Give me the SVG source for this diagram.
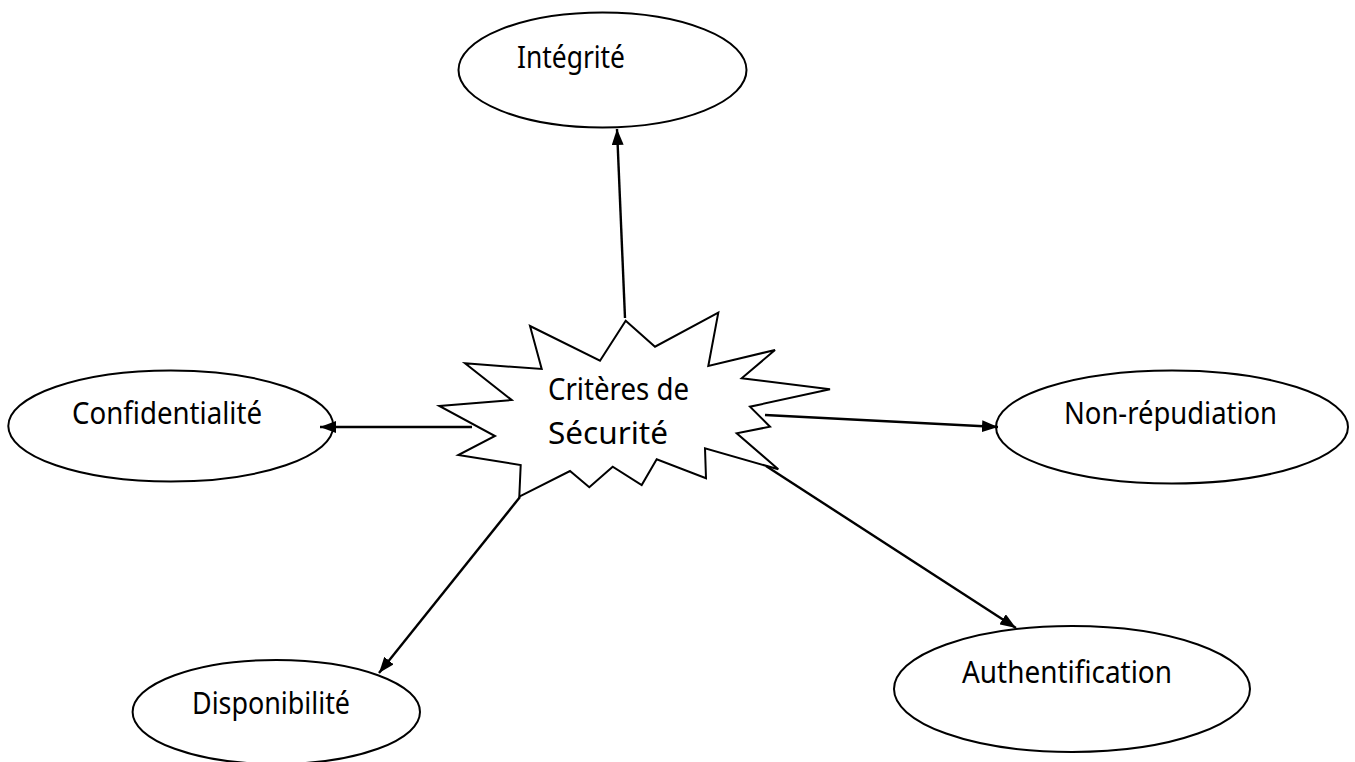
<svg xmlns="http://www.w3.org/2000/svg" width="1355" height="762" viewBox="0 0 1355 762">
  <style>
    .node { fill: #ffffff; stroke: #000000; stroke-width: 2; }
    .label { font-family: "Noto Sans", "Open Sans", "Liberation Sans", sans-serif; font-size: 30px; fill: #000000; }
    .edge { stroke: #000000; stroke-width: 2.4; fill: none; marker-end: url(#arrow); }
  </style>
  <defs>
    <marker id="arrow" viewBox="0 0 16 12" refX="16" refY="6" markerWidth="16" markerHeight="12" markerUnits="userSpaceOnUse" orient="auto">
      <path d="M0,0 L16,6 L0,12 Z" fill="#000000"/>
    </marker>
  </defs>
  <rect width="1355" height="762" fill="#ffffff"/>

  <g id="center">
    <polygon class="node" points="625.7,320.7 655,346.7 718.3,312.7 708.3,366 775,350 741.7,378.3 830,389.3 750,406.7 770,426.7 736.7,433.3 778.3,469.3 705,448.3 706,478.3 656.7,459.3 641.7,485 612.7,466.7 589.3,487.3 570,471 519.3,496.7 520.7,465 458.3,455 495,436 439.3,406 511.7,400 465,363.3 541.7,369 530,326 600,360.7"/>
    <text class="label" x="548" y="400" textLength="141" lengthAdjust="spacingAndGlyphs">Critères de</text>
    <text class="label" x="548" y="444" textLength="120" lengthAdjust="spacingAndGlyphs">Sécurité</text>
  </g>

  <g id="integrite">
    <ellipse class="node" cx="602.5" cy="70" rx="144" ry="57.5"/>
    <text class="label" x="517" y="68" textLength="108" lengthAdjust="spacingAndGlyphs">Intégrité</text>
  </g>

  <g id="confidentialite">
    <ellipse class="node" cx="170.8" cy="426" rx="162.5" ry="55.5"/>
    <text class="label" x="72" y="424" textLength="190" lengthAdjust="spacingAndGlyphs">Confidentialité</text>
  </g>

  <g id="non-repudiation">
    <ellipse class="node" cx="1172" cy="427" rx="176" ry="56.5"/>
    <text class="label" x="1064" y="424" textLength="213" lengthAdjust="spacingAndGlyphs">Non-répudiation</text>
  </g>

  <g id="authentification">
    <ellipse class="node" cx="1072" cy="689" rx="178" ry="63"/>
    <text class="label" x="962" y="683" textLength="210" lengthAdjust="spacingAndGlyphs">Authentification</text>
  </g>

  <g id="disponibilite">
    <ellipse class="node" cx="276.3" cy="712" rx="143.7" ry="52"/>
    <text class="label" x="192" y="714" textLength="158" lengthAdjust="spacingAndGlyphs">Disponibilité</text>
  </g>

  <!-- arrows drawn last so their heads sit over the ellipse outlines -->
  <g id="connectors">
    <line class="edge" x1="625" y1="318" x2="617" y2="129"/>
    <line class="edge" x1="472" y1="427" x2="320" y2="427"/>
    <line class="edge" x1="765" y1="415" x2="998" y2="427"/>
    <line class="edge" x1="766" y1="466" x2="1016" y2="628"/>
    <line class="edge" x1="520" y1="497" x2="379" y2="673"/>
  </g>
</svg>
